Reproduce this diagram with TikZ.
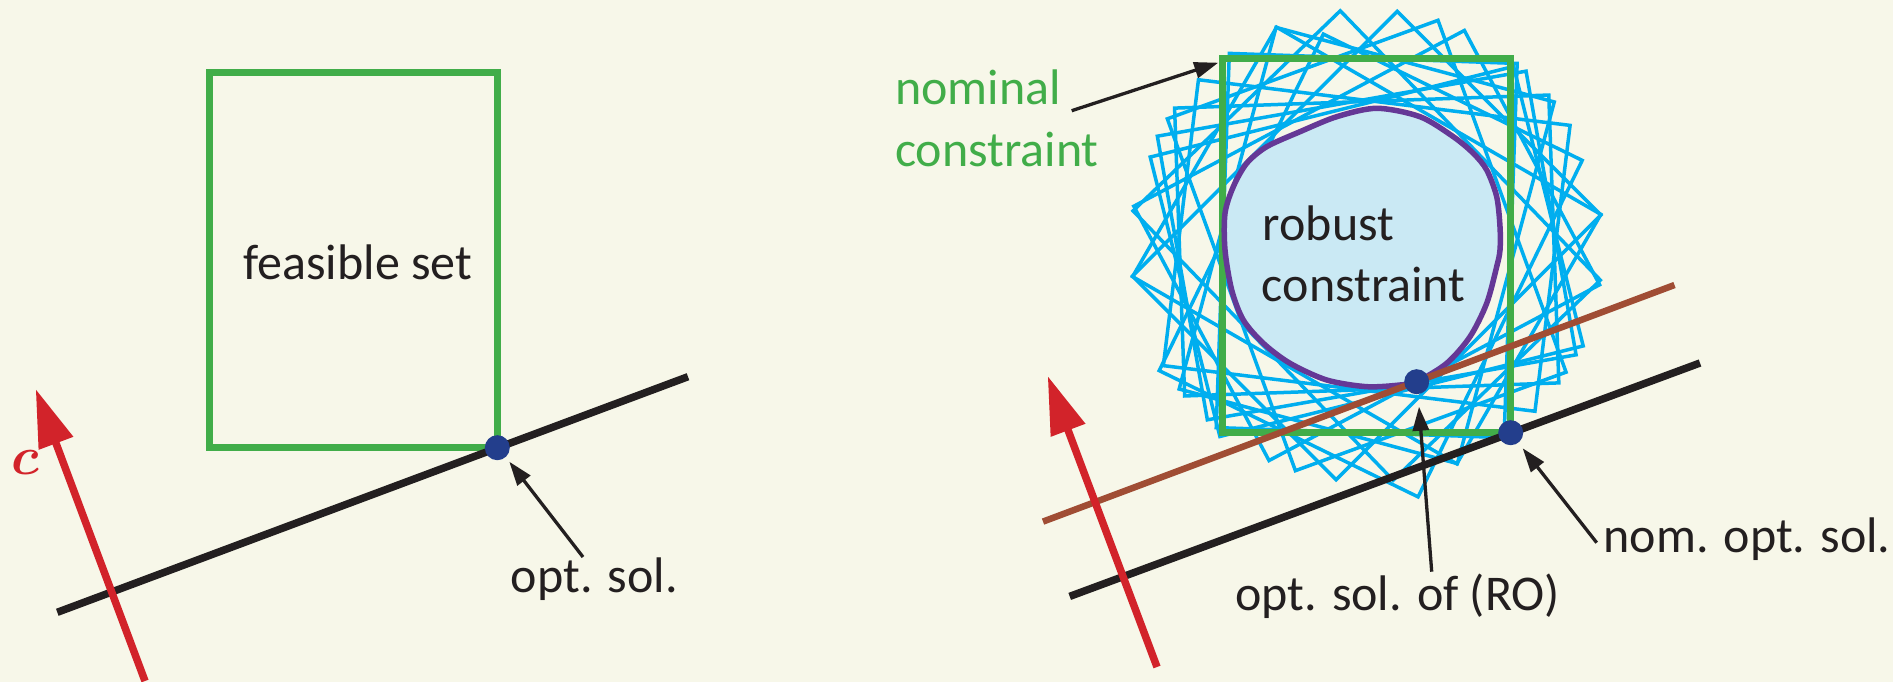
\documentclass[tikz,border=0pt]{standalone}
\usepackage{amsmath,bm}
\usepackage{graphicx}
\usepackage{fontspec}
\newfontfamily\carlito{Carlito}
\usetikzlibrary{arrows.meta}
\definecolor{bg}{RGB}{247,247,233}
\definecolor{grn}{RGB}{65,173,73}
\definecolor{cyn}{RGB}{0,174,239}
\definecolor{blobfill}{RGB}{202,233,244}
\definecolor{purp}{RGB}{101,56,150}
\definecolor{brn}{RGB}{160,77,52}
\definecolor{redc}{RGB}{210,35,42}
\definecolor{navy}{RGB}{35,62,140}
\definecolor{ink}{RGB}{35,31,32}
\begin{document}
\begin{tikzpicture}[x=1pt,y=-1pt,
  txt/.style={inner sep=0pt, anchor=base west, font=\carlito\fontsize{50}{60}\selectfont, text=ink},
  gtxt/.style={txt, text=grn},
  grect/.style={draw=grn, line width=7pt, line join=miter},
  cy/.style={draw=cyn, line width=3.5pt, line join=miter},
  blk/.style={draw=ink, line width=7.5pt},
  brline/.style={draw=brn, line width=6.5pt},
  redarr/.style={draw=redc, line width=7.5pt, -{Triangle[length=58pt,width=35pt]}, redc},
  ann/.style={draw=ink, line width=3.3pt, -{Triangle[length=24pt,width=16pt]}, ink},
  dot/.style={circle, fill=navy, inner sep=0pt, minimum size=25pt}]
\path[fill=bg, use as bounding box] (0,0) rectangle (1893,682);

% ---------- left panel ----------
\draw[grect] (209.5,72.5) rectangle (497.3,447.7);
\node[txt] (feas) at (243.3,279.3) {feasible set};
\coordinate (L1a) at (57.3,612.3);
\coordinate (L1b) at (688,376.7);
\draw[blk] (L1a) -- (L1b);
\coordinate (c1tail) at (145,681);
\coordinate (c1tip) at (35.7,389);
\draw[redarr] (c1tail) -- (c1tip);
\node[inner sep=0pt, anchor=base west, text=redc, font=\fontsize{20}{24}\selectfont] (clab) at (11,474) {\scalebox{2.6}{$\bm{c}$}};
\node[dot] (optL) at (497.3,447.7) {};
\node[txt] (optLtxt) at (510.7,592.7) {opt. sol.};
\coordinate (optTail) at (583,557);
\coordinate (optTip) at (509.3,461.7);
\draw[ann] (optTail) -- (optTip);

% ---------- right panel ----------
\foreach \t/\dx/\dy in {-83/0/0,-60/0/0,-44/0/0,-20/0/0,2/0/0,15/0/0,26/4/20,45/0/0,62/0/0,76/0/6,80/0/0,88/0/0}{
  \draw[cy] ({1366.7+\dx+236.2*cos(\t+52.43)},{245.5+\dy+236.2*sin(\t+52.43)})
    -- ({1366.7+\dx+236.2*cos(\t+127.57)},{245.5+\dy+236.2*sin(\t+127.57)})
    -- ({1366.7+\dx+236.2*cos(\t+232.43)},{245.5+\dy+236.2*sin(\t+232.43)})
    -- ({1366.7+\dx+236.2*cos(\t+307.57)},{245.5+\dy+236.2*sin(\t+307.57)}) -- cycle;
}
\draw[grect] (1222.7,58.3) rectangle (1510.7,432.7);
\draw[fill=blobfill, draw=purp, line width=5.5pt] plot[smooth cycle, tension=0.5] coordinates {
 (1376.7,108.3) (1420,116.7) (1453.3,136.7) (1473.3,153.3) (1486.7,170) (1496.7,196.7)
 (1500,226.7) (1500,250) (1496.7,266.7) (1486.7,303.3) (1470,336.7) (1446.7,363.3)
 (1416.7,381.7) (1400,385) (1366.7,386.7) (1326.7,380) (1290,363.3) (1263.3,343.3)
 (1243.3,320) (1231.7,290) (1225,250) (1225,213.3) (1233.3,186.7) (1246.7,163.3)
 (1266.7,146.7) (1300,131.7) (1336.7,116.7)};
\node[txt] (rob1) at (1262.7,240) {robust};
\node[txt] (rob2) at (1261.7,301.7) {constraint};
\node[gtxt] (nom1) at (895,105) {nominal};
\node[gtxt] (nom2) at (895,166.7) {constraint};
\coordinate (nomTail) at (1071.7,110.7);
\coordinate (nomTip) at (1218.3,62.7);
\draw[ann] (nomTail) -- (nomTip);

\coordinate (Ba) at (1043,521.6);
\coordinate (Bb) at (1674.5,285);
\draw[brline] (Ba) -- (Bb);
\coordinate (L2a) at (1069.7,596.4);
\coordinate (L2b) at (1700,363);
\draw[blk] (L2a) -- (L2b);
\coordinate (c2tail) at (1157,667);
\coordinate (c2tip) at (1047.7,376);
\draw[redarr] (c2tail) -- (c2tip);

\node[dot] (robDot) at (1416.7,381.7) {};
\node[dot] (nomDot) at (1510.7,432.7) {};

\node[txt] (roTxt) at (1235,610) {opt. sol. of (RO)};
\node[txt] (nomTxt) at (1603.3,552.3) {nom. opt. sol.};
\coordinate (roTail) at (1431.7,571.7);
\coordinate (roTip) at (1419,406.7);
\draw[ann] (roTail) -- (roTip);
\coordinate (nsTail) at (1596.7,542.7);
\coordinate (nsTip) at (1522.7,448.3);
\draw[ann] (nsTail) -- (nsTip);
\end{tikzpicture}
\end{document}
